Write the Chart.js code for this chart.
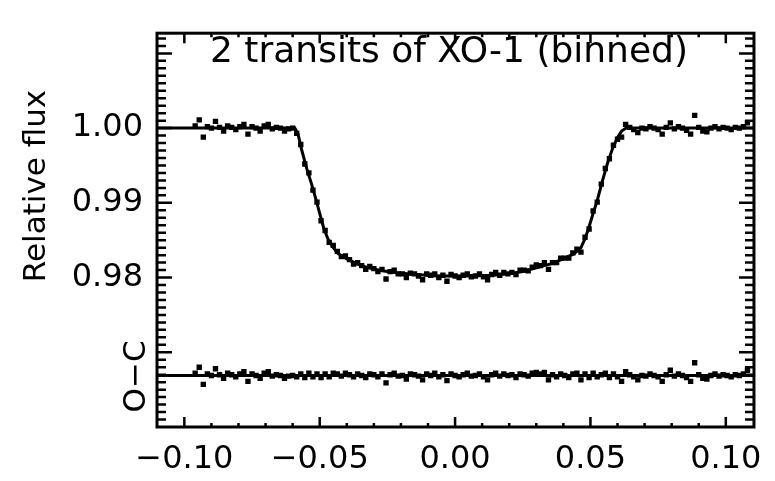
<!DOCTYPE html>
<html>
<head>
<meta charset="utf-8">
<script src="https://cdn.jsdelivr.net/npm/chart.js@4.4.1/dist/chart.umd.min.js"></script>
<style>
  html, body { margin: 0; padding: 0; background: #fff; }
  #wrap { width: 775px; height: 481px; position: relative; }
</style>
</head>
<body>
<div id="wrap"><canvas id="lc"></canvas></div>
<script>
// binned phase (days from mid-transit)
const phase = [
  -0.0960, -0.0945, -0.0930, -0.0915, -0.0900, -0.0885, -0.0870, -0.0855, -0.0840, -0.0825,
  -0.0810, -0.0795, -0.0780, -0.0765, -0.0750, -0.0735, -0.0720, -0.0705, -0.0690, -0.0675,
  -0.0660, -0.0645, -0.0630, -0.0615, -0.0600, -0.0585, -0.0570, -0.0555, -0.0540, -0.0525,
  -0.0510, -0.0495, -0.0480, -0.0465, -0.0450, -0.0435, -0.0420, -0.0405, -0.0390, -0.0375,
  -0.0360, -0.0345, -0.0330, -0.0315, -0.0300, -0.0285, -0.0270, -0.0255, -0.0240, -0.0225,
  -0.0210, -0.0195, -0.0180, -0.0165, -0.0150, -0.0135, -0.0120, -0.0105, -0.0090, -0.0075,
  -0.0060, -0.0045, -0.0030, -0.0015, 0.0000, 0.0015, 0.0030, 0.0045, 0.0060, 0.0075,
  0.0090, 0.0105, 0.0120, 0.0135, 0.0150, 0.0165, 0.0180, 0.0195, 0.0210, 0.0225,
  0.0240, 0.0255, 0.0270, 0.0285, 0.0300, 0.0315, 0.0330, 0.0345, 0.0360, 0.0375,
  0.0390, 0.0405, 0.0420, 0.0435, 0.0450, 0.0465, 0.0480, 0.0495, 0.0510, 0.0525,
  0.0540, 0.0555, 0.0570, 0.0585, 0.0600, 0.0615, 0.0630, 0.0645, 0.0660, 0.0675,
  0.0690, 0.0705, 0.0720, 0.0735, 0.0750, 0.0765, 0.0780, 0.0795, 0.0810, 0.0825,
  0.0840, 0.0855, 0.0870, 0.0885, 0.0900, 0.0915, 0.0930, 0.0945, 0.0960, 0.0975,
  0.0990, 0.1005, 0.1020, 0.1035, 0.1050, 0.1065, 0.1080
];

const flux = [
  1.0003, 1.0011, 0.9988, 1.0002, 1.0000, 1.0009, 1.0001, 0.9996, 1.0003, 1.0001,
  0.9998, 1.0002, 1.0005, 0.9992, 1.0002, 1.0000, 0.9996, 1.0003, 1.0005, 0.9999,
  1.0001, 1.0000, 0.9996, 0.9999, 1.0000, 0.9993, 0.9978, 0.9952, 0.9940, 0.9917,
  0.9901, 0.9876, 0.9863, 0.9847, 0.9843, 0.9835, 0.9828, 0.9829, 0.9824, 0.9818,
  0.9820, 0.9816, 0.9811, 0.9815, 0.9812, 0.9808, 0.9811, 0.9798, 0.9808, 0.9810,
  0.9805, 0.9805, 0.9800, 0.9806, 0.9805, 0.9802, 0.9797, 0.9805, 0.9803, 0.9805,
  0.9800, 0.9803, 0.9795, 0.9804, 0.9802, 0.9800, 0.9803, 0.9805, 0.9801, 0.9802,
  0.9805, 0.9801, 0.9797, 0.9804, 0.9807, 0.9803, 0.9807, 0.9805, 0.9807, 0.9804,
  0.9810, 0.9810, 0.9809, 0.9814, 0.9817, 0.9816, 0.9820, 0.9811, 0.9820, 0.9820,
  0.9826, 0.9826, 0.9826, 0.9833, 0.9838, 0.9834, 0.9854, 0.9865, 0.9889, 0.9901,
  0.9925, 0.9946, 0.9959, 0.9977, 0.9985, 0.9988, 1.0005, 1.0001, 0.9998, 0.9994,
  1.0000, 0.9999, 1.0002, 1.0000, 0.9998, 0.9992, 1.0001, 1.0007, 0.9999, 1.0002,
  1.0000, 0.9997, 0.9992, 1.0017, 1.0001, 0.9996, 0.9995, 1.0000, 1.0002, 0.9999,
  1.0001, 1.0000, 0.9998, 1.0001, 1.0000, 1.0002, 1.0007
];

// observed minus calculated
const residual = [
  0.0003, 0.0011, -0.0012, 0.0002, 0.0000, 0.0009, 0.0001, -0.0004, 0.0003, 0.0001,
  -0.0002, 0.0002, 0.0005, -0.0008, 0.0002, 0.0000, -0.0004, 0.0003, 0.0005, -0.0001,
  0.0001, 0.0000, -0.0004, -0.0001, 0.0000, -0.0002, 0.0002, -0.0003, 0.0003, -0.0002,
  0.0002, -0.0003, 0.0002, -0.0002, 0.0003, 0.0002, -0.0001, 0.0003, 0.0001, -0.0002,
  0.0002, 0.0000, -0.0003, 0.0002, 0.0001, -0.0002, 0.0002, -0.0010, 0.0001, 0.0003,
  -0.0001, 0.0000, -0.0005, 0.0002, 0.0001, -0.0001, -0.0006, 0.0002, 0.0000, 0.0003,
  -0.0002, 0.0001, -0.0007, 0.0002, 0.0000, -0.0002, 0.0001, 0.0003, -0.0001, 0.0000,
  0.0002, -0.0002, -0.0006, 0.0001, 0.0003, -0.0001, 0.0002, 0.0000, 0.0001, -0.0003,
  0.0002, 0.0001, -0.0001, 0.0003, 0.0004, 0.0002, 0.0004, -0.0006, 0.0001, -0.0002,
  0.0002, 0.0000, -0.0003, 0.0002, 0.0003, -0.0006, 0.0002, -0.0003, 0.0003, -0.0002,
  0.0001, 0.0003, -0.0003, 0.0002, -0.0002, -0.0008, 0.0005, 0.0001, -0.0002, -0.0006,
  0.0000, -0.0001, 0.0002, 0.0000, -0.0002, -0.0008, 0.0001, 0.0007, -0.0001, 0.0002,
  0.0000, -0.0003, -0.0008, 0.0017, 0.0001, -0.0004, -0.0005, 0.0000, 0.0002, -0.0001,
  0.0001, 0.0000, -0.0002, 0.0001, 0.0000, 0.0002, 0.0007
];

// transit model curve
const modelPhase = [
  -0.1101, -0.0592, -0.0580, -0.0566, -0.0548, -0.0530, -0.0515, -0.0500, -0.0485, -0.0470,
  -0.0452, -0.0432, -0.0400, -0.0360, -0.0320, -0.0270, -0.0210, -0.0140, -0.0070, 0.0000,
  0.0070, 0.0140, 0.0200, 0.0250, 0.0300, 0.0350, 0.0400, 0.0440, 0.0465, 0.0480,
  0.0495, 0.0510, 0.0525, 0.0544, 0.0563, 0.0581, 0.0598, 0.0615, 0.0632, 0.1104
];
const modelFlux = [
  1.0000, 1.0000, 0.9992, 0.9970, 0.9946, 0.9925, 0.9906, 0.9886, 0.9866, 0.9852,
  0.9841, 0.9832, 0.9825, 0.9818, 0.9813, 0.9809, 0.9806, 0.9804, 0.9802, 0.9802,
  0.9802, 0.9803, 0.9805, 0.9808, 0.9813, 0.9818, 0.9825, 0.9832, 0.9840, 0.9852,
  0.9868, 0.9886, 0.9903, 0.9929, 0.9953, 0.9972, 0.9986, 0.9996, 1.0000, 1.0000
];

const ocLevel = 0.9669;
const xTickValues = [-0.10, -0.05, 0.00, 0.05, 0.10];
const yTickValues = [0.98, 0.99, 1.00];
const titleText = '2 transits of XO-1 (binned)';
const yTitleText = 'Relative flux';
const ocText = 'O\u2212C';

const xMin = -0.1101, xMax = 0.1104;
const yMin = 0.96, yMax = 1.0127;

Chart.defaults.font.family = '"DejaVu Sans", sans-serif';
Chart.defaults.color = '#000';

const fluxPts = phase.map((p, i) => ({ x: p, y: flux[i] }));
const ocPts = phase.map((p, i) => ({ x: p, y: ocLevel + residual[i] }));
const modelPts = modelPhase.map((p, i) => ({ x: p, y: modelFlux[i] }));
const ocLine = [{ x: xMin, y: ocLevel }, { x: xMax, y: ocLevel }];

// frame, inward ticks and the text inside / beside the plot
const framePlugin = {
    id: 'frame',
    afterDraw(chart) {
        const { ctx, chartArea: a, scales: { x, y } } = chart;
        ctx.save();
        ctx.strokeStyle = '#000';
        ctx.lineWidth = 3;
        ctx.strokeRect(a.left, a.top, a.right - a.left, a.bottom - a.top);

        ctx.lineWidth = 2.5;
        ctx.beginPath();
        for (let i = -10; i <= 10; i++) {
            const px = x.getPixelForValue(i / 100);
            const len = i % 5 === 0 ? 10 : 4;
            ctx.moveTo(px, a.bottom); ctx.lineTo(px, a.bottom - len);
            ctx.moveTo(px, a.top); ctx.lineTo(px, a.top + len);
        }
        for (let i = 961; i <= 1012; i++) {
            const py = y.getPixelForValue(i / 1000);
            const len = i % 10 === 0 ? 15 : 9;
            ctx.moveTo(a.left, py); ctx.lineTo(a.left + len, py);
            ctx.moveTo(a.right, py); ctx.lineTo(a.right - len, py);
        }
        ctx.stroke();

        ctx.fillStyle = '#000';
        ctx.textBaseline = 'alphabetic';
        ctx.textAlign = 'center';
        ctx.font = '36px "DejaVu Sans"';
        ctx.fillText(titleText, 449, 62);

        ctx.font = '31px "DejaVu Sans"';
        ctx.save();
        ctx.translate(45, 186);
        ctx.rotate(-Math.PI / 2);
        ctx.fillText(yTitleText, 0, 0);
        ctx.restore();

        ctx.save();
        ctx.translate(145, y.getPixelForValue(ocLevel) + 1);
        ctx.rotate(-Math.PI / 2);
        ctx.fillText(ocText, 0, 0);
        ctx.restore();

        ctx.restore();
    }
};

new Chart(document.getElementById('lc'), {
    type: 'scatter',
    data: {
        datasets: [
            {
                data: fluxPts,
                pointStyle: 'rect',
                pointRadius: 3.8,
                pointBorderWidth: 0,
                backgroundColor: '#000',
                borderColor: '#000',
                showLine: false
            },
            {
                data: ocPts,
                pointStyle: 'rect',
                pointRadius: 3.8,
                pointBorderWidth: 0,
                backgroundColor: '#000',
                borderColor: '#000',
                showLine: false
            },
            {
                data: modelPts,
                showLine: true,
                pointRadius: 0,
                borderColor: '#000',
                borderWidth: 3,
                tension: 0
            },
            {
                data: ocLine,
                showLine: true,
                pointRadius: 0,
                borderColor: '#000',
                borderWidth: 3
            }
        ]
    },
    options: {
        responsive: true,
        maintainAspectRatio: false,
        animation: false,
        layout: { padding: { top: 12, right: 12, left: 0, bottom: 0 } },
        plugins: {
            legend: { display: false },
            tooltip: { enabled: false }
        },
        scales: {
            x: {
                type: 'linear',
                min: xMin,
                max: xMax,
                afterFit: (s) => { s.height = 54; },
                afterBuildTicks: (s) => { s.ticks = xTickValues.map(v => ({ value: v })); },
                grid: { display: false, drawTicks: false },
                border: { display: false },
                ticks: {
                    autoSkip: false,
                    maxRotation: 0,
                    padding: 13,
                    font: { size: 32 },
                    callback: (v) => v.toFixed(2).replace('-', '\u2212')
                }
            },
            y: {
                type: 'linear',
                min: yMin,
                max: yMax,
                afterFit: (s) => { s.width = 157; },
                afterBuildTicks: (s) => { s.ticks = yTickValues.map(v => ({ value: v })); },
                grid: { display: false, drawTicks: false },
                border: { display: false },
                ticks: {
                    autoSkip: false,
                    padding: 14,
                    font: { size: 32 },
                    callback: (v) => v.toFixed(2)
                }
            }
        }
    },
    plugins: [framePlugin]
});
</script>
</body>
</html>
